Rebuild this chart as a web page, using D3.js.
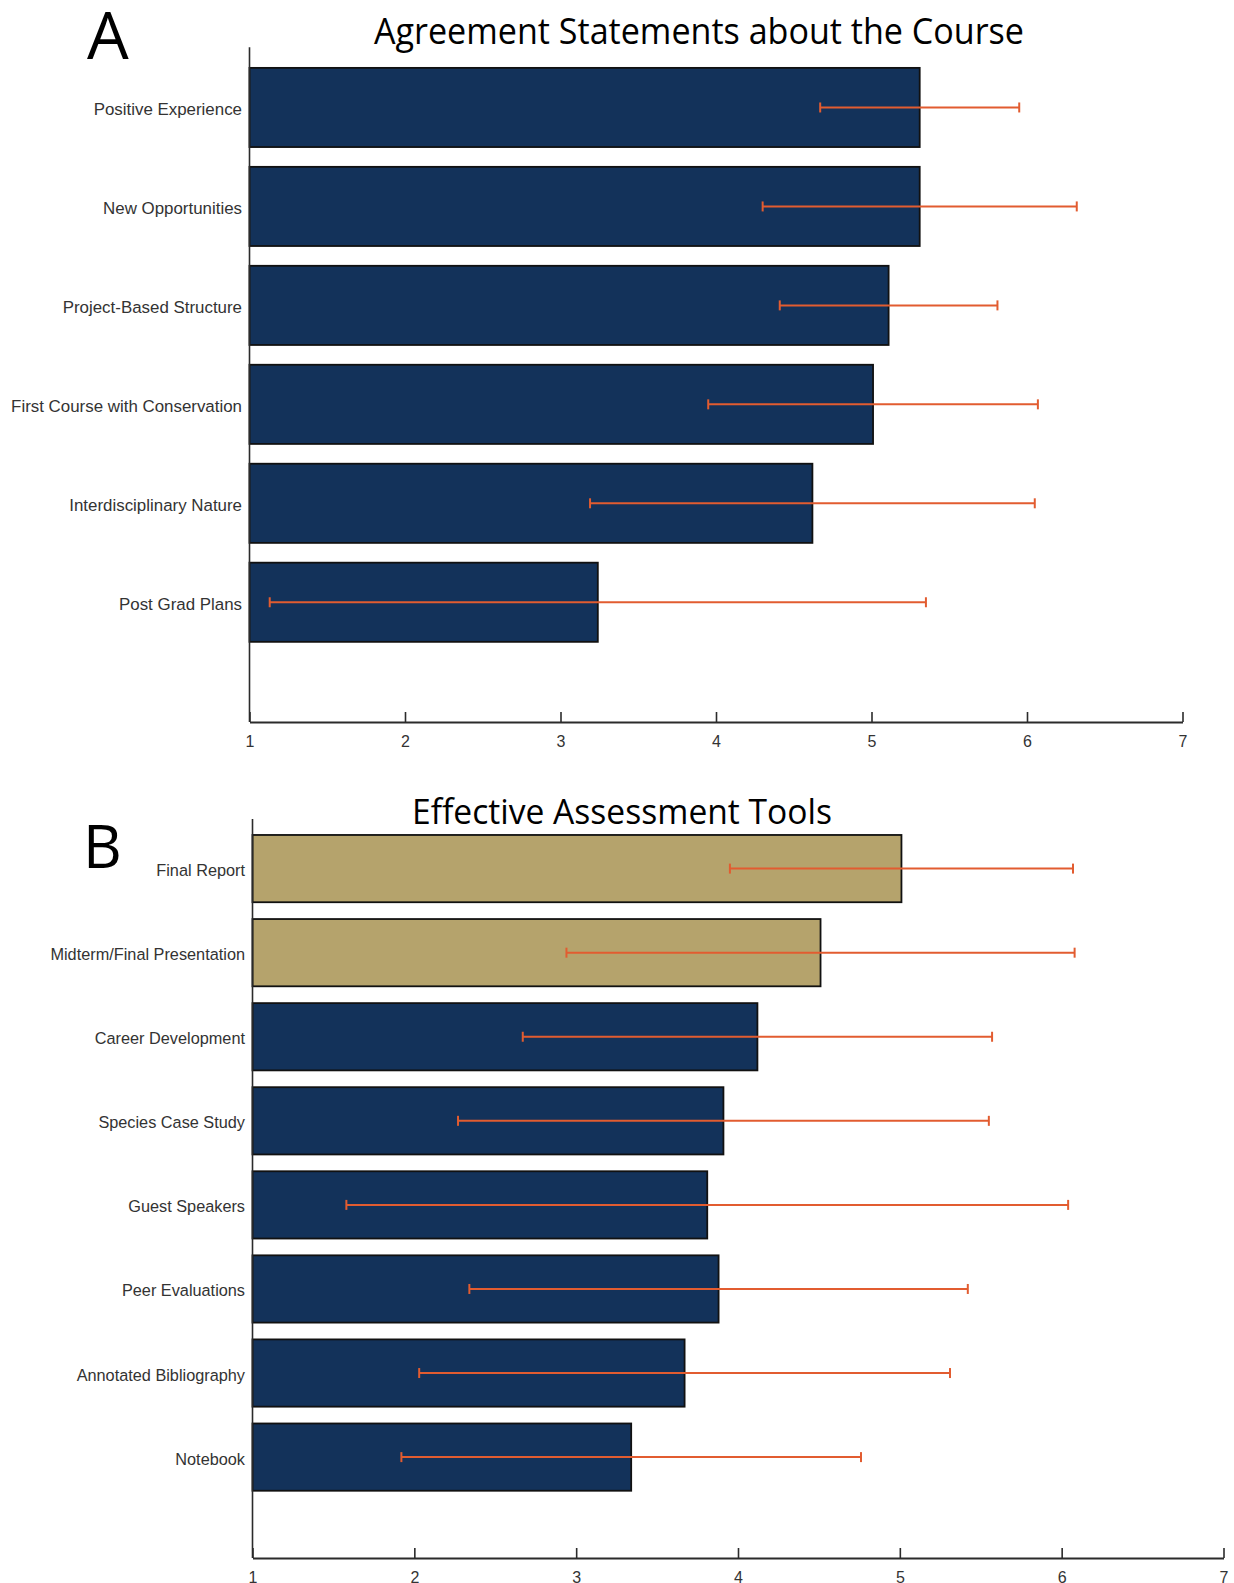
<!DOCTYPE html>
<html>
<head>
<meta charset="utf-8">
<script src="https://cdn.jsdelivr.net/npm/d3@7"></script>
<style>
  body { margin: 0; background: #fff; }
  svg { display: block; }
</style>
</head>
<body>
<svg id="chart" width="1234" height="1583"></svg>
<script>
// Panel A: agreement statements about the course (mean rating, standard deviation; 1–7 scale)
const agreementStatements = [
  "Positive Experience",
  "New Opportunities",
  "Project-Based Structure",
  "First Course with Conservation",
  "Interdisciplinary Nature",
  "Post Grad Plans"
];
const agreementMeans = [5.31, 5.31, 5.11, 5.01, 4.62, 3.24];
const agreementSD    = [0.64, 1.01, 0.70, 1.06, 1.43, 2.11];

// Panel B: effectiveness of assessment tools
const assessmentTools = [
  "Final Report",
  "Midterm/Final Presentation",
  "Career Development",
  "Species Case Study",
  "Guest Speakers",
  "Peer Evaluations",
  "Annotated Bibliography",
  "Notebook"
];
const assessmentMeans = [5.01, 4.51, 4.12, 3.91, 3.81, 3.88, 3.67, 3.34];
const assessmentSD    = [1.06, 1.57, 1.45, 1.64, 2.23, 1.54, 1.64, 1.42];
const assessmentHighlighted = [true, true, false, false, false, false, false, false];

const ratingTicks = [1, 2, 3, 4, 5, 6, 7];

const NAVY = "#13325a";
const GOLD = "#b5a36c";
const ERR = "#e25c30";
const AXIS = "#2b2b2b";

const svg = d3.select("#chart");

function drawPanel(cfg) {
  const { labels, means, sds, colors, xRange, yDomain, yRange, labelSize, letter, title } = cfg;

  const x = d3.scaleLinear().domain([1, 7]).range(xRange);
  const y = d3.scaleLinear().domain(yDomain).range(yRange);
  const half = 0.4;

  const g = svg.append("g");

  // bars
  g.selectAll("rect.bar")
    .data(means)
    .join("rect")
    .attr("class", "bar")
    .attr("x", x(1))
    .attr("y", (d, i) => y(i - half))
    .attr("width", d => x(d) - x(1))
    .attr("height", (d, i) => y(i + half) - y(i - half))
    .attr("fill", (d, i) => colors[i])
    .attr("stroke", "#111")
    .attr("stroke-width", 1.8);

  // error bars (mean ± SD)
  const eb = g.selectAll("g.err")
    .data(means.map((m, i) => ({ m, s: sds[i], i })))
    .join("g")
    .attr("class", "err")
    .attr("stroke", ERR)
    .attr("stroke-width", 2);
  eb.append("line")
    .attr("x1", d => x(d.m - d.s)).attr("x2", d => x(d.m + d.s))
    .attr("y1", d => y(d.i)).attr("y2", d => y(d.i));
  eb.append("line")
    .attr("x1", d => x(d.m - d.s)).attr("x2", d => x(d.m - d.s))
    .attr("y1", d => y(d.i) - 5).attr("y2", d => y(d.i) + 5);
  eb.append("line")
    .attr("x1", d => x(d.m + d.s)).attr("x2", d => x(d.m + d.s))
    .attr("y1", d => y(d.i) - 5).attr("y2", d => y(d.i) + 5);

  // category labels
  g.selectAll("text.cat")
    .data(labels)
    .join("text")
    .attr("class", "cat")
    .attr("x", x(1) - 7.5)
    .attr("y", (d, i) => y(i))
    .attr("dy", "0.46em")
    .attr("text-anchor", "end")
    .attr("font-family", "'Liberation Sans', Arial, Helvetica, sans-serif")
    .attr("font-size", labelSize)
    .attr("fill", "#333")
    .text(d => d);

  // vertical axis line
  g.append("line")
    .attr("x1", x(1)).attr("x2", x(1))
    .attr("y1", yRange[0]).attr("y2", yRange[1])
    .attr("stroke", AXIS)
    .attr("stroke-width", 1.6);

  // horizontal rating axis with inward ticks
  const axis = d3.axisBottom(x)
    .tickValues(ratingTicks)
    .tickFormat(d3.format("d"))
    .tickSizeInner(-10)
    .tickSizeOuter(0)
    .tickPadding(14);
  const ax = g.append("g")
    .attr("transform", `translate(0,${yRange[1]})`)
    .call(axis);
  ax.select(".domain").attr("stroke", AXIS).attr("stroke-width", 2);
  ax.selectAll(".tick line").attr("stroke", AXIS).attr("stroke-width", 1.6);
  ax.selectAll(".tick text")
    .attr("font-family", "'Liberation Sans', Arial, sans-serif")
    .attr("font-size", 16)
    .attr("fill", "#333");

  // panel letter and title
  svg.append("text")
    .attr("x", letter.x).attr("y", letter.y)
    .attr("font-family", "'Open Sans', sans-serif")
    .attr("font-size", letter.size)
    .attr("fill", "#000")
    .text(letter.text);

  svg.append("text")
    .attr("x", title.x).attr("y", title.y)
    .attr("text-anchor", "middle")
    .attr("font-family", "'Open Sans', sans-serif")
    .attr("font-size", title.size)
    .attr("textLength", title.width)
    .attr("lengthAdjust", "spacingAndGlyphs")
    .attr("fill", "#000")
    .text(title.text);
}

drawPanel({
  labels: agreementStatements,
  means: agreementMeans,
  sds: agreementSD,
  colors: agreementMeans.map(() => NAVY),
  xRange: [249.5, 1182.5],
  yDomain: [-0.608, 6.21],
  yRange: [47.3, 722],
  labelSize: 16.9,
  letter: { text: "A", x: 87, y: 58.6, size: 66 },
  title: { text: "Agreement Statements about the Course", x: 699, y: 44.4, size: 36.5, width: 650 }
});

drawPanel({
  labels: assessmentTools,
  means: assessmentMeans,
  sds: assessmentSD,
  colors: assessmentHighlighted.map(h => h ? GOLD : NAVY),
  xRange: [252.5, 1223.5],
  yDomain: [-0.59, 8.2],
  yRange: [819, 1558],
  labelSize: 16.3,
  letter: { text: "B", x: 83, y: 868, size: 60 },
  title: { text: "Effective Assessment Tools", x: 622, y: 823.5, size: 34, width: 420 }
});
</script>
</body>
</html>
